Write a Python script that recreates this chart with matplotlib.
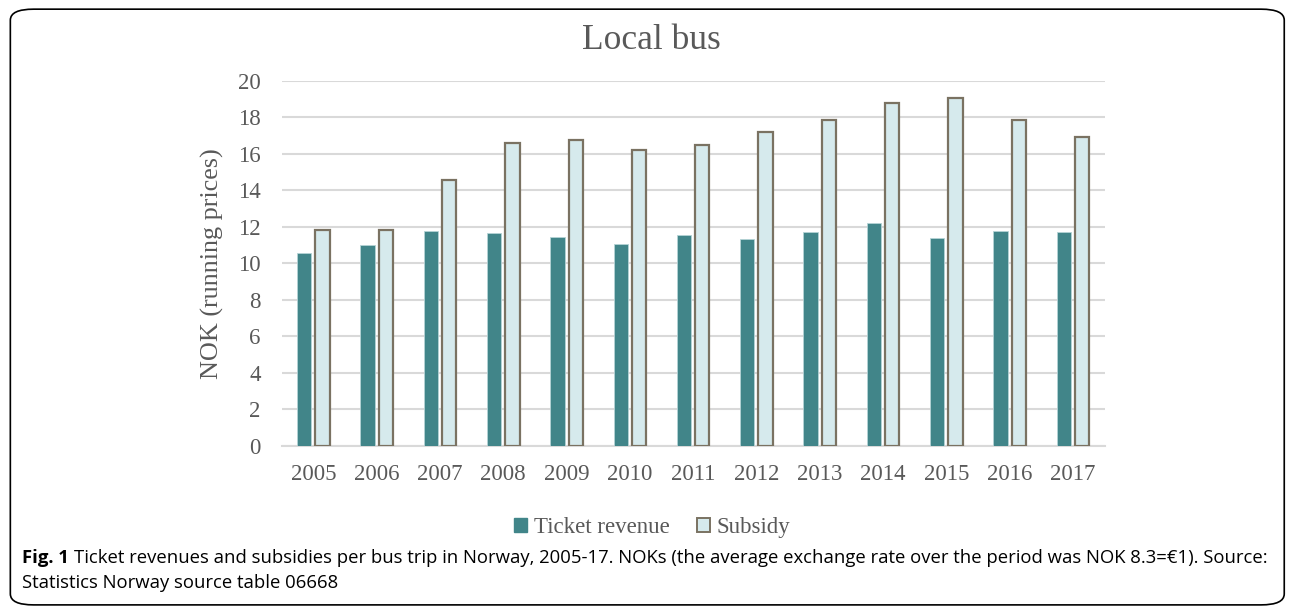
import matplotlib.pyplot as plt
import numpy as np
from matplotlib.patches import FancyBboxPatch, Patch

years = ["2005", "2006", "2007", "2008", "2009", "2010", "2011",
         "2012", "2013", "2014", "2015", "2016", "2017"]
ticket_revenue = [10.56, 11.02, 11.79, 11.64, 11.44, 11.07, 11.55,
                  11.35, 11.73, 12.19, 11.37, 11.77, 11.73]
subsidy = [11.84, 11.84, 14.54, 16.57, 16.74, 16.21, 16.50,
           17.18, 17.85, 18.80, 19.07, 17.83, 16.89]

serif = ["Liberation Serif", "DejaVu Serif"]
sans = ["Open Sans", "DejaVu Sans"]
grey = "#595959"

fig = plt.figure(figsize=(12.92, 6.11), dpi=100)
ax = fig.add_axes([0.218, 0.27, 0.637, 0.598])

x = np.arange(len(years))
w = 0.226
ax.bar(x - 0.145, ticket_revenue, w, color="#418589", edgecolor="#b5d3d6",
       linewidth=0.6, zorder=3, label="Ticket revenue")
ax.bar(x + 0.145, subsidy, w, color="#d6eaed", edgecolor="#7a7262",
       linewidth=1.6, zorder=3, label="Subsidy")

ax.set_xlim(-0.5, len(years) - 0.5)
ax.set_ylim(0, 20)
ax.set_yticks(range(0, 21, 2))
ax.set_xticks(x)
ax.set_xticklabels(years)
ax.grid(axis="y", color="#d9d9d9", linewidth=1.5, zorder=0)
ax.set_axisbelow(True)
for s in ["top", "right", "left"]:
    ax.spines[s].set_visible(False)
ax.spines["bottom"].set_color("#d9d9d9")
ax.spines["bottom"].set_linewidth(1.5)
ax.tick_params(length=0, labelsize=16.5, labelcolor=grey)
ax.tick_params(axis="x", pad=13)
ax.tick_params(axis="y", pad=15)
for lab in ax.get_xticklabels() + ax.get_yticklabels():
    lab.set_family(serif)

ax.set_ylabel("NOK (running prices)", family=serif, fontsize=18.8, color=grey,
              labelpad=10)
fig.text(0.504, 0.934, "Local bus", family=serif, fontsize=25.5, color=grey,
         ha="center", va="center")

handles = [Patch(facecolor="#418589", edgecolor="#418589"),
           Patch(facecolor="#d6eaed", edgecolor="#7a7262", linewidth=1.4)]
leg = fig.legend(handles, ["Ticket revenue", "Subsidy"], loc="center",
                 bbox_to_anchor=(0.505, 0.136), ncol=2, frameon=False,
                 prop={"family": serif, "size": 16.5}, handlelength=0.55,
                 handleheight=0.55, handletextpad=0.3, columnspacing=1.2)
for t in leg.get_texts():
    t.set_color(grey)

# caption: bold figure number, then the rest placed right after it
cap_size = 13.3
fig_no = fig.text(0.017, 0.087, "Fig. 1", fontsize=cap_size, family=sans,
                  weight="bold", va="center")
fig.canvas.draw()
bb = fig_no.get_window_extent().transformed(fig.transFigure.inverted())
fig.text(bb.x1 + 0.004, 0.087,
         "Ticket revenues and subsidies per bus trip in Norway, 2005-17. "
         "NOKs (the average exchange rate over the period was NOK 8.3=\u20ac1). Source:",
         fontsize=cap_size, family=sans, va="center")
fig.text(0.017, 0.046, "Statistics Norway source table 06668", fontsize=cap_size,
         family=sans, va="center")

border = FancyBboxPatch((0.008, 0.01), 0.986, 0.975, transform=fig.transFigure,
                        boxstyle="round,pad=0,rounding_size=0.018",
                        facecolor="none", edgecolor="black", linewidth=1.2)
fig.patches.append(border)

fig.savefig("out.png", dpi=100)
